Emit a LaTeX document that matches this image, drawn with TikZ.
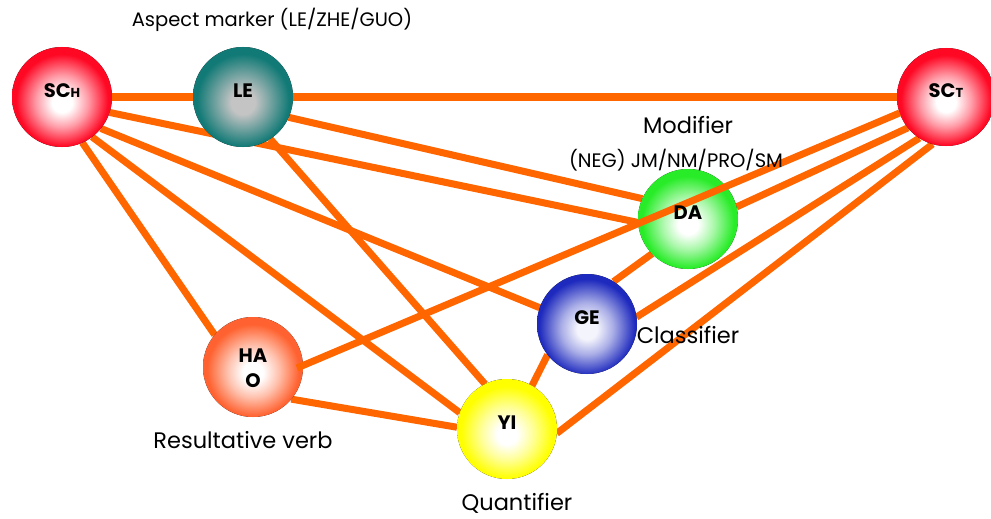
\documentclass[tikz,border=0pt]{standalone}
\usepackage{fontspec}
\setmainfont{Poppins}
\usetikzlibrary{calc}
\definecolor{edgeor}{RGB}{255,102,0}
\definecolor{cRed}{RGB}{255,8,36}
\definecolor{cTeal}{RGB}{18,122,118}
\definecolor{cTealIn}{RGB}{196,196,196}
\definecolor{cGreen}{RGB}{40,236,40}
\definecolor{cBlue}{RGB}{30,42,190}
\definecolor{cBlueIn}{RGB}{244,244,252}
\definecolor{cOrange}{RGB}{255,98,48}
\definecolor{cYellow}{RGB}{255,255,0}
\pgfdeclareradialshading{shRed}{\pgfpoint{0bp}{-3bp}}{color(0bp)=(white); color(5bp)=(white); color(13bp)=(cRed!40!white); color(23bp)=(cRed); color(50bp)=(cRed)}
\pgfdeclareradialshading{shTeal}{\pgfpoint{0bp}{-3bp}}{color(0bp)=(cTealIn); color(6bp)=(cTealIn); color(23bp)=(cTeal); color(50bp)=(cTeal)}
\pgfdeclareradialshading{shGreen}{\pgfpoint{0bp}{-3bp}}{color(0bp)=(white); color(5bp)=(white); color(13bp)=(cGreen!40!white); color(23bp)=(cGreen); color(50bp)=(cGreen)}
\pgfdeclareradialshading{shBlue}{\pgfpoint{0bp}{-3bp}}{color(0bp)=(cBlueIn); color(5bp)=(cBlueIn); color(13bp)=(cBlue!35!cBlueIn); color(24bp)=(cBlue); color(50bp)=(cBlue)}
\pgfdeclareradialshading{shOrange}{\pgfpoint{0bp}{-3bp}}{color(0bp)=(white); color(5bp)=(white); color(13bp)=(cOrange!40!white); color(23bp)=(cOrange); color(50bp)=(cOrange)}
\pgfdeclareradialshading{shYellow}{\pgfpoint{0bp}{-3bp}}{color(0bp)=(white); color(5bp)=(white); color(13bp)=(cYellow!40!white); color(23bp)=(cYellow); color(50bp)=(cYellow)}
\tikzset{
  ball/.style={circle, minimum size=100pt, inner sep=0pt, outer sep=0pt, draw=none},
  balltext/.style={font=\fontsize{19.5}{25}\selectfont\bfseries, inner sep=0pt, align=center},
  link/.style={draw=edgeor, line width=7pt},
  biglabel/.style={font=\fontsize{22.5}{26}\selectfont, inner sep=0pt},
  smalllabel/.style={font=\fontsize{19.5}{22}\selectfont, inner sep=0pt}
}
\newcommand{\subcap}[1]{{\fontsize{13}{14}\selectfont #1}}
\begin{document}
\begin{tikzpicture}[x=1pt,y=-1pt]
\useasboundingbox (0,0) rectangle (991,519);
% node shapes (named); shading drawn later
\path
  (62,97) node[ball] (SCH) {}
  (243,97) node[ball] (LE) {}
  (946,97) node[ball, minimum size=98pt] (SCT) {}
  (688,219) node[ball] (DA) {}
  (587,324) node[ball] (GE) {}
  (253,367) node[ball] (HAO) {}
  (507,429) node[ball] (YI) {};
% connectors behind the balls
\draw[link] (SCH.0) -- (LE.180);
\draw[link] (LE.0) -- (SCT.180);
\draw[link] (SCH.-18) -- (DA.184);
\draw[link] (LE.-24) -- (DA.156);
\draw[link] (SCH.-39) -- (GE.161);
\draw[link] (SCH.-53) -- (YI.161);
\draw[link] (SCH.-66) -- (HAO.140);
\draw[link] (LE.-57) -- (YI.116);
\draw[link] (HAO.-40) -- (YI.178);
\draw[link] (GE.218) -- (YI.60);
\draw[link] (GE.58) -- (DA.224);
\draw[link] (SCT.219) -- (DA.14);
\draw[link] (SCT.237) -- (GE.8);
\draw[link] (SCT.254) -- (YI.-5);
% shaded balls
\fill[shading=shRed] (SCH) circle[radius=50pt];
\fill[shading=shTeal] (LE) circle[radius=50pt];
\fill[shading=shRed] (SCT) circle[radius=49pt];
\fill[shading=shGreen] (DA) circle[radius=50pt];
\fill[shading=shBlue] (GE) circle[radius=50pt];
\fill[shading=shOrange] (HAO) circle[radius=50pt];
\fill[shading=shYellow] (YI) circle[radius=50pt];
% connector drawn over DA
\draw[link] (SCT.199) -- ([shift={(44pt,-1pt)}]HAO.center);
% ball texts
\node[balltext] (tSCH) at ([yshift=6pt]SCH.center) {SC\subcap{H}};
\node[balltext] (tLE) at ([yshift=6pt]LE.center) {LE};
\node[balltext] (tSCT) at ([yshift=6pt]SCT.center) {SC\subcap{T}};
\node[balltext] (tDA) at ([yshift=6pt]DA.center) {DA};
\node[balltext] (tGE) at ([yshift=6pt]GE.center) {GE};
\node[balltext] (tHAO) at ([yshift=-1pt]HAO.center) {HA\\O};
\node[balltext] (tYI) at ([yshift=6pt]YI.center) {YI};
% labels
\node[smalllabel] (lAsp) at (272,20) {Aspect marker (LE/ZHE/GUO)};
\node[biglabel] (lMod) at (688,125) {Modifier};
\node[smalllabel] (lNeg) at (676,160) {(NEG) JM/NM/PRO/SM};
\node[biglabel] (lCla) at (688,335) {Classifier};
\node[biglabel] (lRes) at (243,440) {Resultative verb};
\node[biglabel] (lQua) at (517,503) {Quantifier};
\end{tikzpicture}
\end{document}
